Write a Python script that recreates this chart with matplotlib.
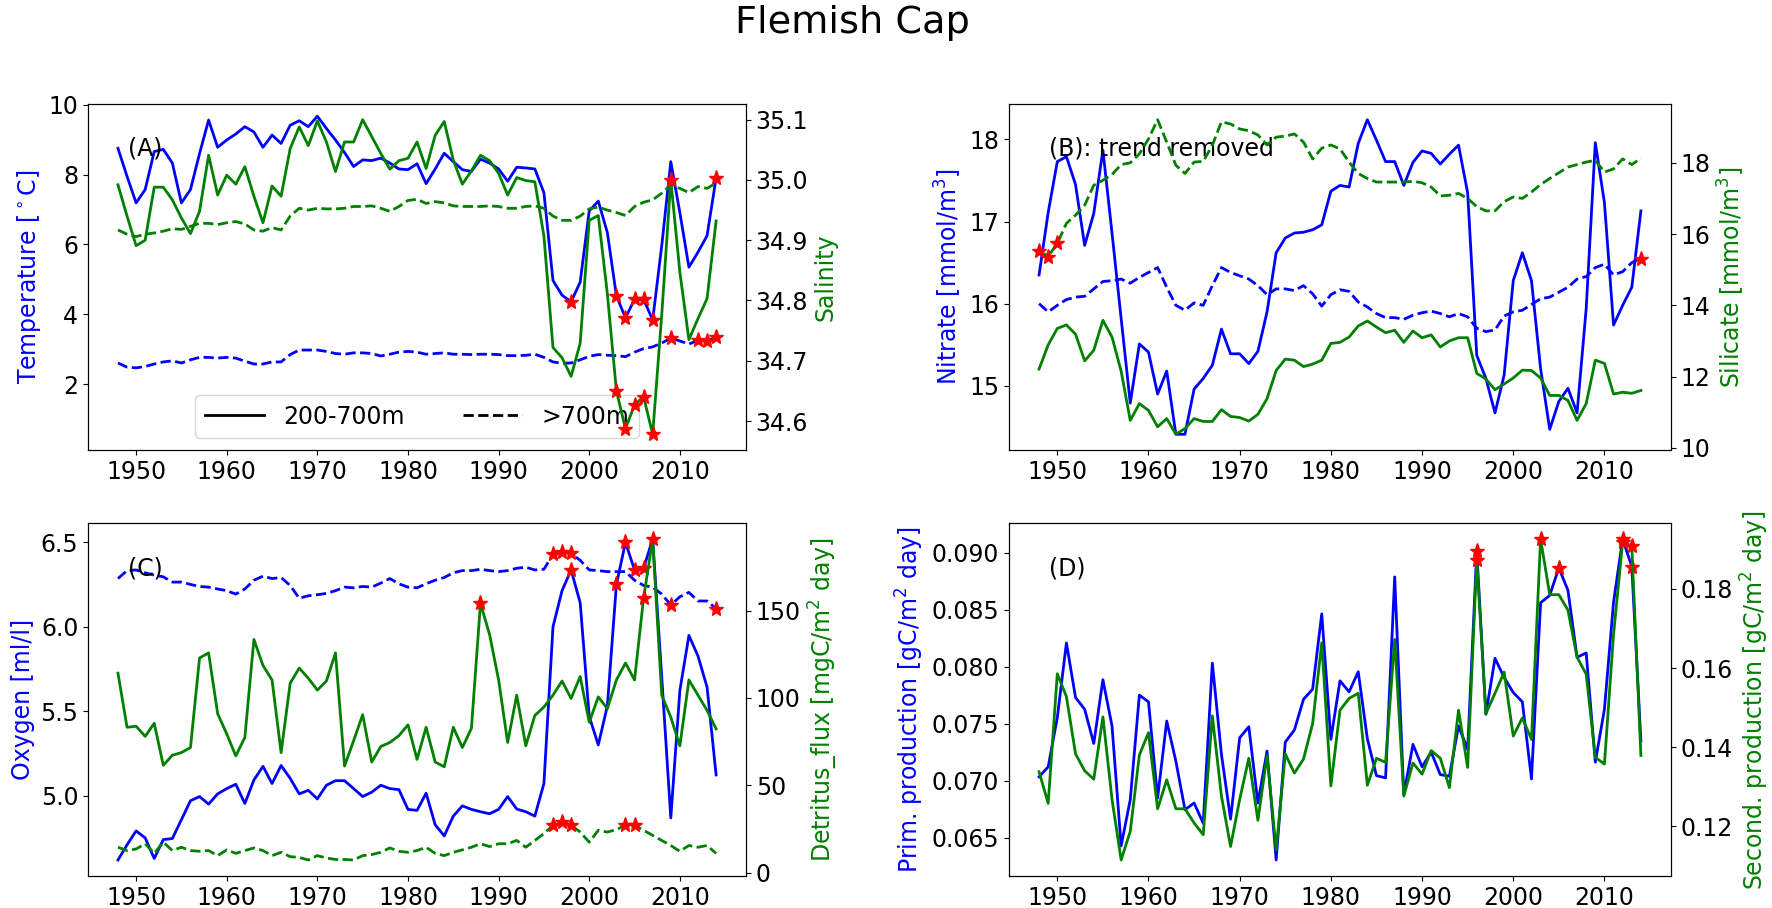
import numpy as np
import matplotlib
matplotlib.use("Agg")
import matplotlib.pyplot as plt
from matplotlib.lines import Line2D

years = np.arange(1948, 2015)

# (A) temperature / salinity
temp_shallow = [8.75, 7.95, 7.19, 7.57, 8.66, 8.72, 8.33, 7.19, 7.57, 8.6,
                9.56, 8.78, 8.99, 9.16, 9.37, 9.22, 8.78, 9.13, 8.89, 9.41,
                9.54, 9.37, 9.67, 9.32, 8.99, 8.63, 8.23, 8.42, 8.40, 8.47,
                8.33, 8.16, 8.14, 8.31, 7.74, 8.16, 8.61, 8.37, 8.14, 8.09,
                8.44, 8.33, 8.16, 7.81, 8.21, 8.19, 8.16, 7.48, 4.97, 4.55,
                4.36, 4.92, 6.96, 7.24, 6.34, 4.53, 3.90, 4.43, 4.43, 3.84,
                5.96, 8.37, 6.91, 5.35, 5.78, 6.25, 7.90]
temp_deep = [2.61, 2.49, 2.47, 2.51, 2.58, 2.64, 2.67, 2.61, 2.70, 2.77,
             2.77, 2.75, 2.77, 2.75, 2.66, 2.58, 2.58, 2.64, 2.64, 2.85,
             2.98, 2.98, 2.98, 2.94, 2.88, 2.86, 2.90, 2.90, 2.88, 2.81,
             2.86, 2.92, 2.94, 2.92, 2.86, 2.88, 2.90, 2.86, 2.86, 2.85,
             2.86, 2.86, 2.85, 2.82, 2.82, 2.83, 2.86, 2.77, 2.64, 2.60,
             2.61, 2.70, 2.80, 2.85, 2.83, 2.82, 2.79, 2.92, 3.02, 3.07,
             3.18, 3.32, 3.24, 3.15, 3.26, 3.24, 3.34]
sal_shallow = [34.992, 34.94, 34.891, 34.90, 34.988, 34.988, 34.967, 34.937, 34.911, 34.948,
               35.041, 34.975, 35.008, 34.993, 35.022, 34.973, 34.929, 34.99, 34.973, 35.052,
               35.088, 35.057, 35.098, 35.063, 35.014, 35.063, 35.063, 35.10, 35.072, 35.044,
               35.018, 35.032, 35.036, 35.063, 35.019, 35.074, 35.097, 35.033, 34.993, 35.015,
               35.041, 35.032, 35.011, 34.975, 35.004, 34.999, 34.997, 34.907, 34.722, 34.705,
               34.674, 34.729, 34.933, 34.941, 34.811, 34.65, 34.587, 34.627, 34.64, 34.578,
               34.776, 35.0, 34.847, 34.735, 34.77, 34.803, 34.932]
sal_deep = [34.917, 34.91, 34.906, 34.91, 34.912, 34.915, 34.919, 34.918, 34.923, 34.928,
            34.928, 34.926, 34.929, 34.931, 34.927, 34.917, 34.915, 34.921, 34.917, 34.94,
            34.953, 34.95, 34.953, 34.952, 34.952, 34.953, 34.956, 34.956, 34.957, 34.953,
            34.948, 34.956, 34.966, 34.968, 34.961, 34.964, 34.962, 34.957, 34.956, 34.956,
            34.956, 34.957, 34.956, 34.953, 34.953, 34.956, 34.957, 34.953, 34.94, 34.933,
            34.933, 34.94, 34.952, 34.955, 34.95, 34.946, 34.941, 34.956, 34.963, 34.967,
            34.978, 34.992, 34.986, 34.979, 34.989, 34.986, 34.995]

# (B) nitrate / silicate, trend removed
nit_shallow = [16.35, 17.11, 17.73, 17.79, 17.45, 16.71, 17.10, 17.87, 16.86, 15.82,
               14.79, 15.51, 15.41, 14.90, 15.18, 14.41, 14.41, 14.96, 15.09, 15.25,
               15.69, 15.39, 15.39, 15.27, 15.42, 15.90, 16.62, 16.80, 16.86, 16.87,
               16.90, 16.96, 17.37, 17.44, 17.42, 17.95, 18.24, 17.99, 17.73, 17.73,
               17.44, 17.72, 17.86, 17.83, 17.70, 17.82, 17.93, 17.35, 15.37, 15.09,
               14.67, 15.13, 16.28, 16.62, 16.28, 15.21, 14.47, 14.81, 14.97, 14.67,
               15.94, 17.96, 17.23, 15.74, 15.98, 16.20, 17.13]
nit_deep = [16.0, 15.90, 15.98, 16.05, 16.08, 16.09, 16.18, 16.27, 16.28, 16.30,
            16.25, 16.32, 16.38, 16.44, 16.20, 15.98, 15.92, 16.01, 15.98, 16.22,
            16.44, 16.38, 16.34, 16.30, 16.22, 16.11, 16.18, 16.18, 16.16, 16.22,
            16.12, 15.97, 16.11, 16.17, 16.15, 16.02, 15.96, 15.88, 15.83, 15.83,
            15.81, 15.86, 15.89, 15.91, 15.88, 15.84, 15.88, 15.84, 15.70, 15.66,
            15.68, 15.85, 15.90, 15.92, 15.99, 16.06, 16.08, 16.14, 16.20, 16.30,
            16.33, 16.44, 16.48, 16.35, 16.39, 16.50, 16.55]
sil_shallow = [12.21, 12.89, 13.35, 13.45, 13.19, 12.44, 12.74, 13.58, 13.11, 12.15,
               10.77, 11.24, 11.05, 10.59, 10.82, 10.38, 10.54, 10.82, 10.74, 10.74,
               11.07, 10.88, 10.85, 10.75, 10.94, 11.38, 12.17, 12.49, 12.46, 12.28,
               12.35, 12.46, 12.93, 12.96, 13.11, 13.42, 13.56, 13.39, 13.23, 13.30,
               12.96, 13.28, 13.09, 13.17, 12.83, 13.00, 13.09, 13.09, 12.09, 11.93,
               11.63, 11.79, 11.96, 12.18, 12.17, 11.96, 11.47, 11.47, 11.33, 10.77,
               11.24, 12.46, 12.37, 11.51, 11.56, 11.53, 11.61]
sil_deep = [15.53, 15.37, 15.74, 16.30, 16.53, 16.81, 17.37, 17.51, 17.67, 17.95,
            18.00, 18.25, 18.67, 19.21, 18.58, 17.93, 17.70, 18.02, 18.04, 18.49,
            19.15, 19.09, 18.95, 18.90, 18.78, 18.50, 18.72, 18.75, 18.81, 18.58,
            18.11, 18.41, 18.50, 18.39, 18.02, 17.70, 17.56, 17.46, 17.46, 17.46,
            17.46, 17.48, 17.44, 17.32, 17.07, 17.09, 17.14, 17.00, 16.77, 16.65,
            16.65, 16.91, 17.04, 17.00, 17.18, 17.39, 17.56, 17.72, 17.88, 17.95,
            18.02, 18.07, 17.74, 17.83, 18.11, 17.95, 18.13]

# (C) oxygen / detritus flux
oxy_shallow = [4.618, 4.708, 4.79, 4.749, 4.627, 4.739, 4.745, 4.857, 4.969, 4.994,
               4.949, 5.01, 5.041, 5.067, 4.953, 5.092, 5.173, 5.071, 5.178, 5.102,
               5.01, 5.031, 4.98, 5.061, 5.088, 5.088, 5.041, 4.994, 5.02, 5.061,
               5.041, 5.035, 4.918, 4.912, 5.014, 4.827, 4.761, 4.878, 4.939, 4.918,
               4.904, 4.892, 4.918, 4.994, 4.92, 4.904, 4.878, 5.071, 6.0, 6.214,
               6.337, 6.143, 5.469, 5.30, 5.531, 6.251, 6.5, 6.337, 6.347, 6.52,
               5.704, 4.867, 5.622, 5.949, 5.827, 5.643, 5.122]
oxy_deep = [6.286, 6.333, 6.337, 6.32, 6.306, 6.296, 6.265, 6.265, 6.251, 6.239,
            6.235, 6.224, 6.214, 6.194, 6.224, 6.276, 6.30, 6.286, 6.292, 6.245,
            6.169, 6.184, 6.19, 6.198, 6.214, 6.235, 6.231, 6.239, 6.235, 6.259,
            6.286, 6.255, 6.235, 6.231, 6.255, 6.276, 6.292, 6.32, 6.333, 6.333,
            6.341, 6.333, 6.327, 6.333, 6.347, 6.353, 6.337, 6.341, 6.429, 6.443,
            6.435, 6.394, 6.337, 6.333, 6.327, 6.327, 6.327, 6.276, 6.245, 6.235,
            6.194, 6.129, 6.178, 6.204, 6.153, 6.153, 6.108]
det_shallow = [114.2, 83.2, 83.8, 78.0, 85.5, 61.4, 67.2, 68.7, 71.6, 122.9,
               125.8, 91.0, 79.4, 66.8, 77.4, 133.5, 118.6, 110.3, 68.7, 108.4,
               117.1, 111.3, 104.5, 109.7, 125.8, 61.0, 75.5, 90.4, 63.3, 72.2,
               74.5, 78.4, 84.6, 64.8, 83.2, 63.3, 60.6, 83.2, 71.6, 82.6,
               154.2, 136.4, 110.3, 74.5, 101.6, 72.6, 90.0, 94.8, 101.6, 109.7,
               99.7, 112.3, 86.1, 100.6, 93.9, 110.3, 120.0, 110.3, 157.3, 191.0,
               101.6, 89.0, 72.6, 110.3, 101.6, 92.9, 82.3]
det_deep = [14.5, 12.6, 13.5, 16.5, 11.0, 17.4, 12.6, 14.5, 12.6, 12.2,
            12.6, 9.7, 13.0, 11.0, 12.6, 14.1, 12.6, 9.7, 11.6, 9.1,
            8.7, 7.2, 9.7, 8.3, 7.5, 7.5, 7.2, 9.7, 10.3, 11.6,
            14.1, 12.2, 11.6, 12.6, 14.5, 11.0, 9.7, 11.6, 13.0, 14.5,
            16.5, 14.9, 16.5, 16.5, 18.4, 14.5, 18.4, 22.3, 27.1, 29.0,
            27.1, 23.2, 17.4, 24.2, 23.2, 24.6, 27.1, 27.1, 24.2, 21.3,
            18.4, 15.5, 12.2, 15.5, 14.5, 15.5, 11.0]

# (D) primary / secondary production
prim_prod = [0.07032, 0.0712, 0.07552, 0.08207, 0.07728, 0.07625, 0.07325, 0.07884, 0.07478, 0.06427,
             0.06832, 0.07749, 0.0769, 0.06847, 0.07522, 0.0717, 0.06744, 0.06803, 0.06626, 0.0803,
             0.07229, 0.06662, 0.07375, 0.07472, 0.06803, 0.07258, 0.06303, 0.07337, 0.07443, 0.07713,
             0.07801, 0.08462, 0.07361, 0.07875, 0.07778, 0.07954, 0.07367, 0.07043, 0.07023, 0.08786,
             0.06876, 0.07317, 0.0712, 0.07249, 0.07052, 0.07038, 0.07478, 0.07273, 0.09012, 0.07581,
             0.08072, 0.07904, 0.07772, 0.0769, 0.07014, 0.08559, 0.08624, 0.08865, 0.08668, 0.08081,
             0.08119, 0.07161, 0.07625, 0.08565, 0.09118, 0.08877, 0.07346]
sec_prod = [0.13379, 0.12579, 0.15855, 0.15277, 0.1383, 0.13404, 0.13191, 0.14766, 0.12681, 0.11149,
            0.11872, 0.13804, 0.14366, 0.12443, 0.13174, 0.12443, 0.12443, 0.12085, 0.11787, 0.14791,
            0.12766, 0.1149, 0.12681, 0.13719, 0.12153, 0.13787, 0.11404, 0.1383, 0.13345, 0.13702,
            0.14596, 0.16638, 0.13021, 0.14936, 0.15234, 0.15362, 0.13038, 0.13719, 0.13617, 0.16723,
            0.12766, 0.136, 0.13319, 0.13915, 0.13719, 0.12979, 0.14936, 0.13489, 0.1874, 0.14851,
            0.15362, 0.15898, 0.14281, 0.1474, 0.14196, 0.1926, 0.17855, 0.17855, 0.17464, 0.16272,
            0.15847, 0.13745, 0.13574, 0.16851, 0.19191, 0.1908, 0.1379]

# years flagged with a red star
stars_temp_shallow = [1998, 2003, 2004, 2005, 2006, 2007, 2014]
stars_temp_deep = [2009, 2012, 2013, 2014]
stars_sal_shallow = [2003, 2004, 2005, 2006, 2007, 2009]
stars_sal_deep = []
stars_nit_shallow = []
stars_nit_deep = [2014]
stars_sil_shallow = []
stars_sil_deep = [1948, 1949, 1950]
stars_oxy_shallow = [1998, 2003, 2004, 2005, 2006]
stars_oxy_deep = [1996, 1997, 1998, 2009, 2014]
stars_det_shallow = [1988, 2006, 2007]
stars_det_deep = [1996, 1997, 1998, 2004, 2005]
stars_prim = [1996, 2005, 2012, 2013]
stars_sec = [1996, 2003, 2012, 2013]

FS = 17


def draw(ax, vals, ls, color, star_years):
    vals = np.asarray(vals)
    ax.plot(years, vals, ls, color=color, lw=2)
    m = np.isin(years, star_years)
    if m.any():
        ax.plot(years[m], vals[m], '*', color='red', markersize=11, zorder=5)


fig = plt.figure(figsize=(17.72, 9.08), dpi=100)
fig.suptitle('Flemish Cap', fontsize=27.5, x=0.481, y=0.995, va='top')

panels = [
    ([0.0497, 0.5044, 0.3713, 0.3811], 'A'),
    ([0.5694, 0.5044, 0.3736, 0.3811], 'B'),
    ([0.0497, 0.0352, 0.3713, 0.3888], 'C'),
    ([0.5694, 0.0352, 0.3736, 0.3888], 'D'),
]
axes = {}
for rect, key in panels:
    ax = fig.add_axes(rect)
    ax2 = ax.twinx()
    axes[key] = (ax, ax2)
    for a in (ax, ax2):
        a.tick_params(labelsize=FS)
    ax.set_xticks([1950, 1960, 1970, 1980, 1990, 2000, 2010])

# (A)
ax, ax2 = axes['A']
draw(ax, temp_shallow, '-', 'blue', stars_temp_shallow)
draw(ax, temp_deep, '--', 'blue', stars_temp_deep)
draw(ax2, sal_shallow, '-', 'green', stars_sal_shallow)
draw(ax2, sal_deep, '--', 'green', stars_sal_deep)
ax.set_ylim(0.12, 10.02)
ax.set_ylabel('Temperature [$^\\circ$C]', color='blue', fontsize=FS)
ax2.set_ylabel('Salinity', color='green', fontsize=FS)
ax.text(0.06, 0.87, '(A)', transform=ax.transAxes, fontsize=FS, va='center')
handles = [Line2D([], [], color='black', ls='-', lw=2),
           Line2D([], [], color='black', ls='--', lw=2)]
# legend on the base axes so the salinity lines are drawn over it
ax.legend(handles, ['200-700m', '>700m'], loc='lower center', ncol=2,
          fontsize=FS, handlelength=2.5, columnspacing=2.5)

# (B)
ax, ax2 = axes['B']
draw(ax, nit_shallow, '-', 'blue', stars_nit_shallow)
draw(ax, nit_deep, '--', 'blue', stars_nit_deep)
draw(ax2, sil_shallow, '-', 'green', stars_sil_shallow)
draw(ax2, sil_deep, '--', 'green', stars_sil_deep)
ax.set_yticks([15, 16, 17, 18])
ax2.set_yticks([10, 12, 14, 16, 18])
ax.set_ylabel('Nitrate [mmol/m$^3$]', color='blue', fontsize=FS)
ax2.set_ylabel('Silicate [mmol/m$^3$]', color='green', fontsize=FS)
ax.text(0.06, 0.87, '(B): trend removed', transform=ax.transAxes, fontsize=FS, va='center')

# (C)
ax, ax2 = axes['C']
draw(ax, oxy_shallow, '-', 'blue', stars_oxy_shallow)
draw(ax, oxy_deep, '--', 'blue', stars_oxy_deep)
draw(ax2, det_shallow, '-', 'green', stars_det_shallow)
draw(ax2, det_deep, '--', 'green', stars_det_deep)
ax.set_yticks([5.0, 5.5, 6.0, 6.5])
ax2.set_yticks([0, 50, 100, 150])
ax.set_ylabel('Oxygen [ml/l]', color='blue', fontsize=FS)
ax2.set_ylabel('Detritus_flux [mgC/m$^2$ day]', color='green', fontsize=FS)
ax.text(0.06, 0.87, '(C)', transform=ax.transAxes, fontsize=FS, va='center')

# (D)
ax, ax2 = axes['D']
draw(ax, prim_prod, '-', 'blue', stars_prim)
draw(ax2, sec_prod, '-', 'green', stars_sec)
ax.set_yticks([0.065, 0.070, 0.075, 0.080, 0.085, 0.090])
ax2.set_yticks([0.12, 0.14, 0.16, 0.18])
ax.set_ylabel('Prim. production [gC/m$^2$ day]', color='blue', fontsize=FS)
ax2.set_ylabel('Second. production [gC/m$^2$ day]', color='green', fontsize=FS)
ax.text(0.06, 0.87, '(D)', transform=ax.transAxes, fontsize=FS, va='center')

fig.savefig('out.png', dpi=100)
